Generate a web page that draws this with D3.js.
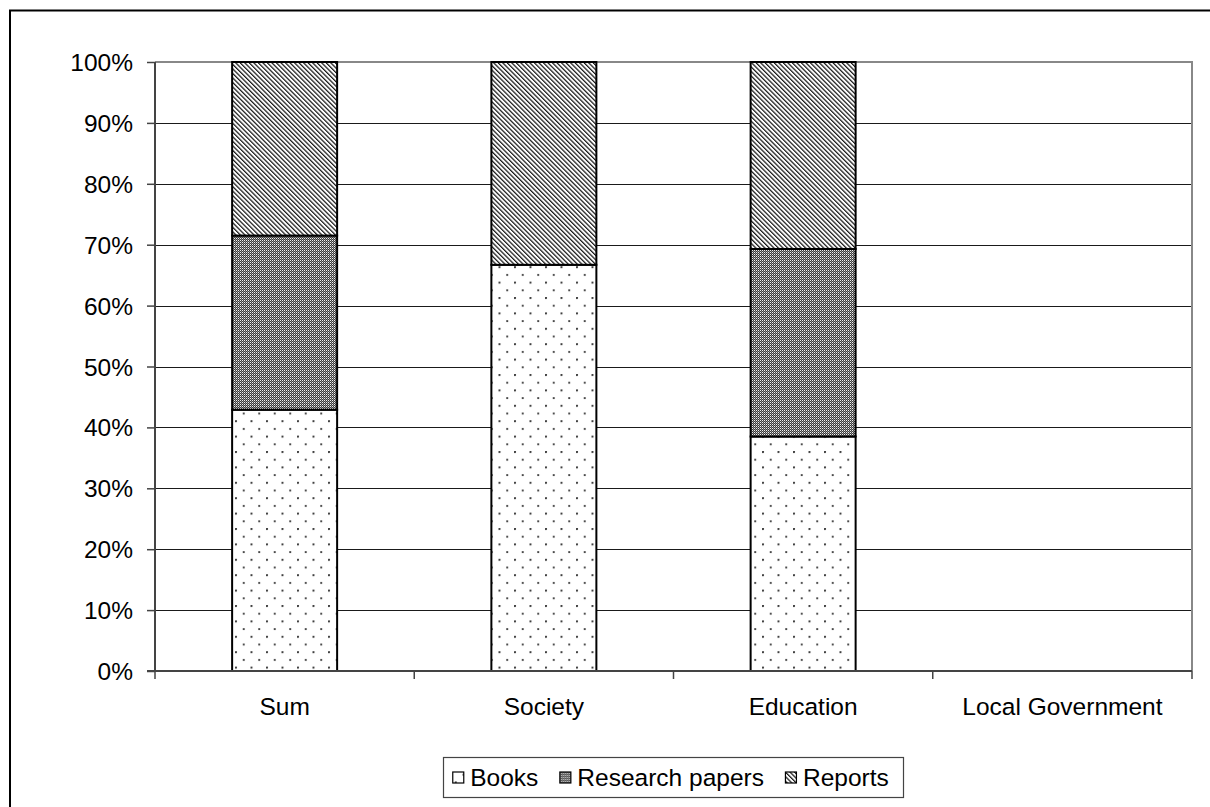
<!DOCTYPE html>
<html>
<head>
<meta charset="utf-8">
<script src="https://cdn.jsdelivr.net/npm/d3@7/dist/d3.min.js"></script>
<style>
  html, body { margin: 0; padding: 0; background: #fff; }
  svg { display: block; }
  text { font-family: "Liberation Sans", Arial, sans-serif; fill: #000; }
</style>
</head>
<body>
<svg id="chart" width="1210" height="807"></svg>
<script>
// Share of publication types per field (percent of each field's total)
const categories = ["Sum", "Society", "Education", "Local Government"];
const seriesNames = ["Books", "Research papers", "Reports"];
const books    = [42.9, 66.7, 38.5, 0];
const research = [28.6, 0.0, 30.8, 0];
const reports  = [28.5, 33.3, 30.7, 0];
const yTicks = [0, 10, 20, 30, 40, 50, 60, 70, 80, 90, 100];
const yTickLabels = ["0%", "10%", "20%", "30%", "40%", "50%", "60%", "70%", "80%", "90%", "100%"];

const svg = d3.select("#chart");
const W = 1210, H = 807;
const plot = { left: 155, right: 1192, top: 62, bottom: 671 };
const fontSize = 24.5;

// ---- fill patterns ----
const defs = svg.append("defs");

// Books: sparse staggered dots
const pDots = defs.append("pattern")
  .attr("id", "pat-books").attr("patternUnits", "userSpaceOnUse")
  .attr("x", 235).attr("y", 605)
  .attr("width", 15.5).attr("height", 15.4);
pDots.append("rect").attr("width", 15.5).attr("height", 15.4).attr("fill", "#fff");
pDots.append("circle").attr("cx", 1).attr("cy", 1).attr("r", 1.05).attr("fill", "#2a2a2a");
pDots.append("circle").attr("cx", 8.75).attr("cy", 8.7).attr("r", 1.05).attr("fill", "#2a2a2a");

// Research papers: fine checker grid
const pChk = defs.append("pattern")
  .attr("id", "pat-research").attr("patternUnits", "userSpaceOnUse")
  .attr("x", 0).attr("y", 0).attr("width", 2).attr("height", 2);
pChk.append("rect").attr("width", 2).attr("height", 2).attr("fill", "#3c3c3c");
pChk.append("rect").attr("x", 0).attr("y", 0).attr("width", 1).attr("height", 1).attr("fill", "#f0f0f0");
pChk.append("rect").attr("x", 1).attr("y", 1).attr("width", 1).attr("height", 1).attr("fill", "#8c8c8c");

// Reports: downward diagonal hatching
const pDiag = defs.append("pattern")
  .attr("id", "pat-reports").attr("patternUnits", "userSpaceOnUse")
  .attr("width", 3.2).attr("height", 10)
  .attr("patternTransform", "rotate(-45)");
pDiag.append("rect").attr("width", 3.2).attr("height", 10).attr("fill", "#fff");
pDiag.append("rect").attr("x", 0).attr("width", 1.25).attr("height", 10).attr("fill", "#1a1a1a");

const fills = ["url(#pat-books)", "url(#pat-research)", "url(#pat-reports)"];

// ---- outer chart border (runs past the right and bottom edges) ----
svg.append("rect")
  .attr("x", 10).attr("y", 10.5)
  .attr("width", W + 40).attr("height", H + 40)
  .attr("fill", "none").attr("stroke", "#000").attr("stroke-width", 2);

// ---- scales ----
const x = d3.scaleBand()
  .domain(categories)
  .range([plot.left, plot.right])
  .paddingInner(0.595)
  .paddingOuter(0.2975);

const y = d3.scaleLinear()
  .domain([0, 100])
  .range([plot.bottom, plot.top]);

// ---- gridlines ----
svg.append("g").selectAll("line")
  .data(yTicks.filter(d => d > 0 && d < 100))
  .join("line")
  .attr("x1", plot.left).attr("x2", plot.right)
  .attr("y1", d => Math.round(y(d)) + 0.5).attr("y2", d => Math.round(y(d)) + 0.5)
  .attr("stroke", "#1a1a1a").attr("stroke-width", 1);

// plot area border (top and right)
svg.append("path")
  .attr("d", `M${plot.left},${y(100)}H${plot.right}V${plot.bottom}`)
  .attr("fill", "none").attr("stroke", "#888").attr("stroke-width", 2);

// ---- stacked bars ----
const table = categories.map((c, i) => ({
  category: c, Books: books[i], "Research papers": research[i], Reports: reports[i]
}));
const stacked = d3.stack().keys(seriesNames)(table);

const barG = svg.append("g");
stacked.forEach((layer, si) => {
  barG.append("g").selectAll("rect")
    .data(layer.filter(d => d[1] - d[0] > 0))
    .join("rect")
    .attr("x", d => x(d.data.category))
    .attr("y", d => y(d[1]))
    .attr("width", x.bandwidth())
    .attr("height", d => y(d[0]) - y(d[1]))
    .attr("fill", fills[si])
    .attr("stroke", "#000")
    .attr("stroke-width", 2);
});

// ---- y axis ----
const yAxis = d3.axisLeft(y)
  .tickValues(yTicks)
  .tickFormat((d, i) => yTickLabels[i])
  .tickSize(8)
  .tickPadding(14);
const gy = svg.append("g").attr("transform", `translate(${plot.left},0)`).call(yAxis);
gy.select(".domain").attr("stroke", "#444").attr("stroke-width", 2)
  .attr("d", `M0,${plot.top}V${plot.bottom}`);
gy.selectAll(".tick line").attr("stroke", "#444").attr("stroke-width", 1.5);
gy.selectAll(".tick text")
  .attr("font-family", "Liberation Sans, Arial, sans-serif")
  .attr("font-size", fontSize).attr("fill", "#000")
  .attr("dy", "0.35em");

// ---- x axis: line, boundary ticks, category labels ----
const step = x.step();
const firstStart = x(categories[0]) - x.paddingOuter() * step;
const bounds = d3.range(categories.length + 1).map(i => firstStart + i * step);

svg.append("line")
  .attr("x1", plot.left - 8).attr("x2", plot.right)
  .attr("y1", plot.bottom).attr("y2", plot.bottom)
  .attr("stroke", "#444").attr("stroke-width", 2);
svg.append("g").selectAll("line")
  .data(bounds)
  .join("line")
  .attr("x1", d => d).attr("x2", d => d)
  .attr("y1", plot.bottom).attr("y2", plot.bottom + 8)
  .attr("stroke", "#444").attr("stroke-width", 1.5);

svg.append("g").selectAll("text")
  .data(categories)
  .join("text")
  .attr("x", d => x(d) + x.bandwidth() / 2)
  .attr("y", 715)
  .attr("text-anchor", "middle")
  .attr("font-size", fontSize)
  .text(d => d);

// ---- legend ----
const legend = svg.append("g");
const box = legend.append("rect")
  .attr("fill", "#fff").attr("stroke", "#444").attr("stroke-width", 1.2);
const items = legend.append("g");
const markerSize = 11, markerGap = 7, itemGap = 21;
let cursor = 0;
seriesNames.forEach((name, i) => {
  const g = items.append("g").attr("transform", `translate(${cursor},0)`);
  g.append("rect")
    .attr("x", 0.5).attr("y", -markerSize / 2 + 0.5)
    .attr("width", markerSize).attr("height", markerSize)
    .attr("fill", fills[i]).attr("stroke", "#000").attr("stroke-width", 1.2);
  const t = g.append("text")
    .attr("x", markerSize + markerGap)
    .attr("dy", "0.36em")
    .attr("font-size", fontSize)
    .text(name);
  cursor += markerSize + markerGap + t.node().getComputedTextLength() + itemGap;
});
const itemsWidth = cursor - itemGap;
const legendCenter = (plot.left + plot.right) / 2;
const legendY = 777;
const padL = 9, padR = 15;
items.attr("transform", `translate(${legendCenter - itemsWidth / 2 - (padR - padL) / 2},${legendY})`);
box.attr("x", Math.round(legendCenter - itemsWidth / 2 - (padR - padL) / 2 - padL) + 0.5)
   .attr("y", 757.5)
   .attr("width", Math.round(itemsWidth + padL + padR))
   .attr("height", 40);
</script>
</body>
</html>
